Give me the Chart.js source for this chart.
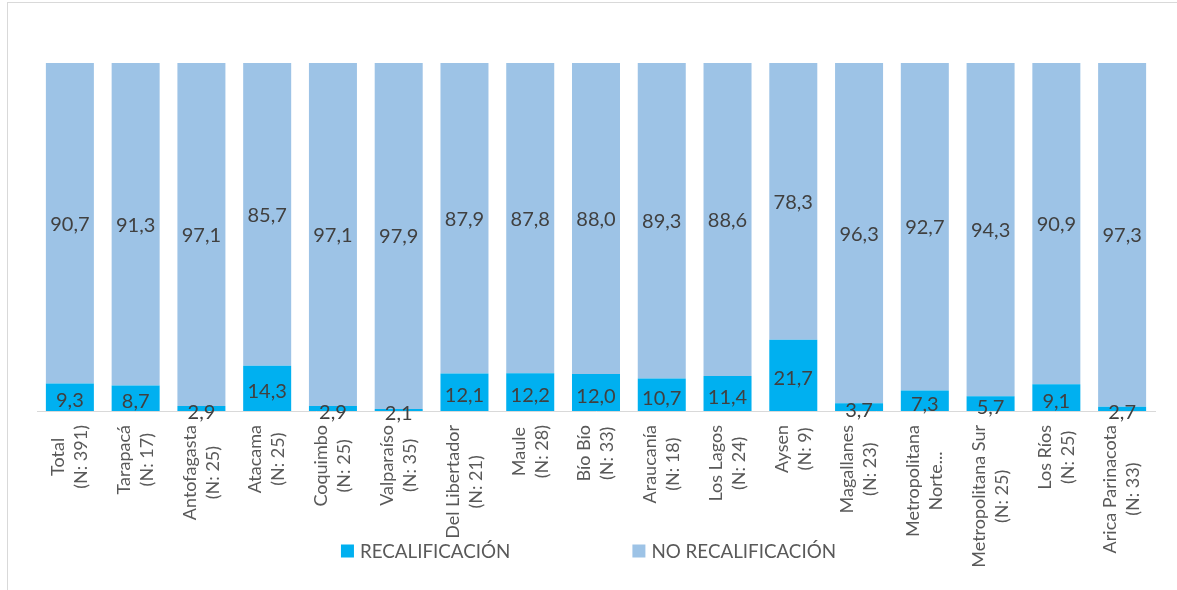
<!doctype html>
<html lang="es">
<head>
    <meta charset="UTF-8">
    <title>Recalificación por región</title>
    <script src="https://cdn.jsdelivr.net/npm/chart.js"></script>
    <style>
        body { margin: 0; background: #fff; }
        .marco {
            position: absolute; left: 7px; top: 2px; width: 1200px; height: 600px;
            border-left: 1px solid #d9d9d9; border-top: 1px solid #d9d9d9;
        }
        .graficos { position: absolute; left: 0; top: 0; width: 1177px; height: 590px; }
    </style>
</head>
<body>
    <div class="marco"></div>
    <div class="graficos">
        <canvas id="grafico1"></canvas>
    </div>

    <script>
        const regiones = [
            ['Total', '(N: 391)'], ['Tarapacá', '(N: 17)'], ['Antofagasta', '(N: 25)'],
            ['Atacama', '(N: 25)'], ['Coquimbo', '(N: 25)'], ['Valparaíso', '(N: 35)'],
            ['Del Libertador', '(N: 21)'], ['Maule', '(N: 28)'], ['Bío Bío', '(N: 33)'],
            ['Araucanía', '(N: 18)'], ['Los Lagos', '(N: 24)'], ['Aysen', '(N: 9)'],
            ['Magallanes', '(N: 23)'], ['Metropolitana', 'Norte...'], ['Metropolitana Sur', '(N: 25)'],
            ['Los Ríos', '(N: 25)'], ['Arica Parinacota', '(N: 33)']
        ];
        const recalificacion = [9.3, 8.7, 2.9, 14.3, 2.9, 2.1, 12.1, 12.2, 12.0, 10.7, 11.4, 21.7, 3.7, 7.3, 5.7, 9.1, 2.7];
        const noRecalificacion = [90.7, 91.3, 97.1, 85.7, 97.1, 97.9, 87.9, 87.8, 88.0, 89.3, 88.6, 78.3, 96.3, 92.7, 94.3, 90.9, 97.3];

        const fuente = 'Lato, "Open Sans", sans-serif';

        // etiquetas de valor centradas en cada segmento
        const etiquetas = {
            id: 'etiquetas',
            afterDatasetsDraw(chart) {
                const c = chart.ctx;
                c.save();
                c.font = '20px ' + fuente;
                c.fillStyle = '#404040';
                c.textAlign = 'center';
                c.textBaseline = 'middle';
                chart.data.datasets.forEach((ds, i) => {
                    chart.getDatasetMeta(i).data.forEach((bar, j) => {
                        const txt = ds.data[j].toFixed(1).replace('.', ',');
                        c.fillText(txt, bar.x, (bar.y + bar.base) / 2 + 1);
                    });
                });
                c.restore();
            }
        };

        // rótulos del eje x girados, líneas centradas entre sí
        const rotulos = {
            id: 'rotulos',
            afterDraw(chart) {
                const c = chart.ctx, x = chart.scales.x;
                c.save();
                c.font = '18px ' + fuente;
                c.fillStyle = '#595959';
                c.textAlign = 'center';
                c.textBaseline = 'middle';
                const alto = 23;
                chart.data.labels.forEach((lineas, i) => {
                    const px = x.getPixelForTick(i);
                    const largo = Math.max(...lineas.map(l => c.measureText(l).width));
                    const cy = x.top + 14 + largo / 2;
                    lineas.forEach((l, k) => {
                        const lx = px + (k - (lineas.length - 1) / 2) * alto;
                        c.save();
                        c.translate(lx, cy);
                        c.rotate(-Math.PI / 2);
                        c.fillText(l, 0, 0);
                        c.restore();
                    });
                });
                c.restore();
            }
        };

        // leyenda abajo, centrada
        const leyenda = {
            id: 'leyenda',
            afterDraw(chart) {
                const c = chart.ctx;
                c.save();
                c.font = '18.8px ' + fuente;
                c.textBaseline = 'middle';
                const caja = 13, sep = 6, hueco = 122, y = 551;
                const anchos = chart.data.datasets.map(ds => caja + sep + c.measureText(ds.label).width);
                const total = anchos.reduce((a, b) => a + b, 0) + hueco * (anchos.length - 1);
                let x = (chart.width - total) / 2;
                chart.data.datasets.forEach((ds, i) => {
                    c.fillStyle = ds.backgroundColor;
                    c.fillRect(x, y - caja / 2, caja, caja);
                    c.fillStyle = '#595959';
                    c.fillText(ds.label, x + caja + sep, y + 1);
                    x += anchos[i] + hueco;
                });
                c.restore();
            }
        };

        const ctx = document.getElementById('grafico1');
        const grafico = new Chart(ctx, {
            type: 'bar',
            data: {
                labels: regiones,
                datasets: [{
                    label: 'RECALIFICACIÓN',
                    data: recalificacion,
                    backgroundColor: '#00b0f0',
                    categoryPercentage: 1,
                    barPercentage: 0.73
                }, {
                    label: 'NO RECALIFICACIÓN',
                    data: noRecalificacion,
                    backgroundColor: '#9dc3e6',
                    categoryPercentage: 1,
                    barPercentage: 0.73
                }]
            },
            options: {
                responsive: true,
                maintainAspectRatio: false,
                animation: false,
                layout: { padding: { top: 63, left: 37, right: 22, bottom: 0 } },
                plugins: {
                    legend: { display: false },
                    tooltip: { enabled: false }
                },
                scales: {
                    x: {
                        stacked: true,
                        grid: { display: false, drawTicks: false },
                        border: { color: '#d9d9d9', width: 1 },
                        ticks: { display: false },
                        afterFit(scale) { scale.height = 179; }
                    },
                    y: {
                        stacked: true,
                        display: false,
                        min: 1.5,
                        max: 100
                    }
                }
            },
            plugins: [etiquetas, rotulos, leyenda]
        });
    </script>
</body>
</html>
